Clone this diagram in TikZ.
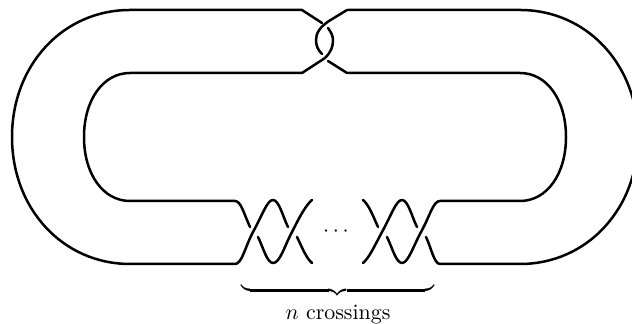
\documentclass[tikz,border=0pt]{standalone}
\tikzset{strand/.style={line width=1.25pt,line cap=round,line join=round},
 lab/.style={inner sep=0pt,font=\fontsize{10.95}{13}\selectfont}}
\begin{document}
\begin{tikzpicture}[x=0.5pt,y=-0.5pt]
\clip (0,0) rectangle (632,324);
% outer band
\draw[strand] (302,10) -- (130,10) .. controls (63,10) and (12,65) .. (12,137) .. controls (12,209) and (63,264) .. (130,264) -- (235,264)
  .. controls (242,264) and (245,247) .. (253,232) .. controls (262,216) and (267,200) .. (273,200) .. controls (279,200) and (283,217) .. (288,227);
\draw[strand] (302,73) -- (130,73) .. controls (103,73) and (84,100) .. (84,137) .. controls (84,174) and (103,201) .. (130,201) -- (235,201)
  .. controls (241,201) and (244,214) .. (250,227);
\draw[strand] (258,237) .. controls (263,247) and (267,263) .. (273,263) .. controls (280,263) and (284,247) .. (292,232) .. controls (300,216) and (306,205) .. (312,200);
\draw[strand] (297,237) .. controls (302,247) and (306,258) .. (312,263);
% right crossings
\draw[strand] (363,200) .. controls (369,205) and (373,216) .. (378,227);
\draw[strand] (363,263) .. controls (369,258) and (374,247) .. (382,232) .. controls (391,216) and (396,200) .. (402,200) .. controls (408,200) and (412,217) .. (417,227);
\draw[strand] (387,237) .. controls (392,247) and (396,263) .. (402,263) .. controls (408,263) and (413,247) .. (421,232) .. controls (430,216) and (433,201) .. (440,201) -- (520,201)
  .. controls (547,201) and (566,174) .. (566,137) .. controls (566,100) and (547,73) .. (520,73) -- (348,73);
\draw[strand] (426,237) .. controls (431,247) and (434,264) .. (440,264) -- (520,264)
  .. controls (587,264) and (638,209) .. (638,137) .. controls (638,65) and (587,10) .. (520,10) -- (348,10);
% top clasp
\draw[strand] (302,10) -- (322,23);
\draw[strand] (347,10) -- (329,21) .. controls (320,27) and (316,33) .. (316,40) .. controls (316,46) and (318,50) .. (322,54);
\draw[strand] (328,28) .. controls (331,32) and (333,36) .. (333,40) .. controls (333,47) and (331,52) .. (325,58) -- (302,73);
\draw[strand] (328,61) -- (347,73);
% labels
\node[lab] (dots) at (336,232) {$\cdots$};
\node[lab,anchor=north] (brace) at (337.5,283) {$\underbrace{\hbox to 96.5pt{}}$};
\node[lab,anchor=base] (label) at (338,320) {$n$ crossings};
\end{tikzpicture}
\end{document}
